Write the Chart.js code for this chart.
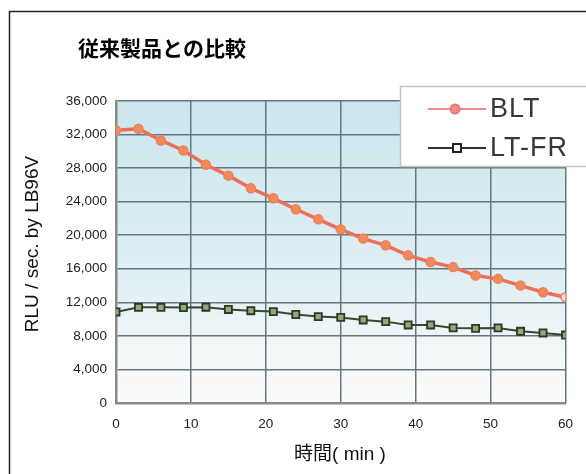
<!DOCTYPE html>
<html lang="ja">
<head>
    <meta charset="UTF-8">
    <title>従来製品との比較</title>
    <script src="https://cdn.jsdelivr.net/npm/chart.js"></script>
    <style>
        body {
            margin: 0;
            background-color: #ffffff;
        }
        .container {
            width: 586px;
            height: 474px;
            position: relative;
        }
    </style>
</head>
<body>
    <div class="container">
        <canvas id="compareChart"></canvas>
    </div>

    <script>
        const minutes = [0, 3, 6, 9, 12, 15, 18, 21, 24, 27, 30, 33, 36, 39, 42, 45, 48, 51, 54, 57, 60];
        const bltValues = [32500, 32700, 31300, 30100, 28400, 27100, 25600, 24400, 23100, 21900, 20700,
                           19600, 18800, 17600, 16800, 16200, 15200, 14800, 14000, 13200, 12600];
        const ltfrValues = [10850, 11400, 11400, 11380, 11420, 11150, 11000, 10900, 10550, 10300, 10200,
                            9900, 9700, 9300, 9300, 8950, 8900, 8950, 8550, 8350, 8100];
        const seriesNames = ['BLT', 'LT-FR'];
        const xTicks = [0, 10, 20, 30, 40, 50, 60];
        const yTicks = [0, 4000, 8000, 12000, 16000, 20000, 24000, 28000, 32000, 36000];

        const chartTitle = '従来製品との比較';
        const xTitle = '時間( min )';
        const yTitle = 'RLU / sec. by LB96V';

        const latin = "'Liberation Sans', Arial, 'Noto Sans CJK JP', sans-serif";

        // background of the plot area, frame, titles and the boxed legend
        const decorations = {
            id: 'decorations',
            beforeDraw(chart) {
                const { ctx, chartArea: a } = chart;
                ctx.save();
                const g = ctx.createLinearGradient(0, a.top, 0, a.bottom);
                g.addColorStop(0, '#cce6ee');
                g.addColorStop(0.6, '#e0eff4');
                g.addColorStop(0.82, '#f3f7f8');
                g.addColorStop(1, '#fbfbfb');
                ctx.fillStyle = g;
                ctx.fillRect(a.left, a.top, a.right - a.left, a.bottom - a.top);
                ctx.restore();
            },
            afterDraw(chart) {
                const { ctx } = chart;
                ctx.save();

                // frame
                ctx.strokeStyle = '#222';
                ctx.lineWidth = 1.5;
                ctx.beginPath();
                ctx.moveTo(9.5, 474);
                ctx.lineTo(9.5, 11.5);
                ctx.lineTo(586, 11.5);
                ctx.stroke();

                // main title
                ctx.fillStyle = '#000';
                ctx.font = "bold 21px 'Noto Sans CJK JP', sans-serif";
                ctx.textBaseline = 'middle';
                ctx.textAlign = 'left';
                ctx.fillText(chartTitle, 78, 48);

                // axis titles
                ctx.font = '19px ' + latin;
                ctx.fillStyle = '#111';
                ctx.textAlign = 'center';
                ctx.fillText(xTitle, 340, 455);
                ctx.save();
                ctx.translate(33, 244);
                ctx.rotate(-Math.PI / 2);
                ctx.fillText(yTitle, 0, 0);
                ctx.restore();

                // legend box
                ctx.fillStyle = '#ffffff';
                ctx.fillRect(400, 86, 186, 81);
                ctx.strokeStyle = '#c4c4c4';
                ctx.lineWidth = 1.5;
                ctx.strokeRect(400.5, 86.5, 190, 80);

                const ds = chart.data.datasets;
                const rows = [109, 148];
                rows.forEach((y, i) => {
                    const d = ds[i];
                    ctx.strokeStyle = i === 0 ? '#ec8c8c' : '#333';
                    ctx.lineWidth = 2;
                    ctx.beginPath();
                    ctx.moveTo(428, y);
                    ctx.lineTo(486, y);
                    ctx.stroke();
                    ctx.fillStyle = i === 0 ? '#f08a8a' : '#f4f4f4';
                    ctx.strokeStyle = i === 0 ? '#e87878' : '#222';
                    ctx.lineWidth = 2;
                    if (i === 0) {
                        ctx.beginPath();
                        ctx.arc(455, y, 4.5, 0, Math.PI * 2);
                        ctx.fill();
                        ctx.stroke();
                    } else {
                        ctx.fillRect(453, y - 4, 8, 8);
                        ctx.strokeRect(453, y - 4, 8, 8);
                    }
                    ctx.fillStyle = '#383838';
                    ctx.font = '27px ' + latin;
                    ctx.textAlign = 'left';
                    ctx.letterSpacing = '1px';
                    ctx.fillText(d.label, 490, y + 1);
                    ctx.letterSpacing = '0px';
                });

                ctx.restore();
            }
        };

        const bltPointFill = bltValues.map((v, i) => i === bltValues.length - 1 ? '#fbd8d0' : '#f28a58');

        const ctx = document.getElementById('compareChart').getContext('2d');

        const compareChart = new Chart(ctx, {
            type: 'line',
            data: {
                datasets: [{
                    label: seriesNames[0],
                    data: minutes.map((m, i) => ({ x: m, y: bltValues[i] })),
                    borderColor: '#ec7058',
                    borderWidth: 3.5,
                    pointStyle: 'circle',
                    pointRadius: 4.5,
                    pointBackgroundColor: bltPointFill,
                    pointBorderColor: '#ee8060',
                    pointBorderWidth: 1.5
                }, {
                    label: seriesNames[1],
                    data: minutes.map((m, i) => ({ x: m, y: ltfrValues[i] })),
                    borderColor: '#3a4634',
                    borderWidth: 2,
                    pointStyle: 'rect',
                    pointRadius: 5,
                    pointBackgroundColor: '#94a878',
                    pointBorderColor: '#2c3828',
                    pointBorderWidth: 1.8
                }]
            },
            options: {
                responsive: true,
                maintainAspectRatio: false,
                animation: false,
                layout: {
                    padding: { top: 101, left: 10, right: 20, bottom: 0 }
                },
                scales: {
                    x: {
                        type: 'linear',
                        min: 0,
                        max: 60,
                        afterFit: (scale) => { scale.height = 71; },
                        afterBuildTicks: (scale) => { scale.ticks = xTicks.map(v => ({ value: v })); },
                        grid: {
                            color: '#647680',
                            lineWidth: 1.5,
                            drawTicks: false
                        },
                        border: { color: '#8a8a8a', width: 2.5 },
                        ticks: {
                            padding: 13,
                            color: '#222',
                            font: { family: latin, size: 13.5 }
                        }
                    },
                    y: {
                        min: 0,
                        max: 36000,
                        afterFit: (scale) => { scale.width = 106; },
                        afterBuildTicks: (scale) => { scale.ticks = yTicks.map(v => ({ value: v })); },
                        grid: {
                            color: '#647680',
                            lineWidth: 1.5,
                            drawTicks: false
                        },
                        border: { color: '#8a8a8a', width: 2.5 },
                        ticks: {
                            padding: 9,
                            color: '#222',
                            font: { family: latin, size: 13.5 },
                            callback: (v) => v.toLocaleString('en-US')
                        }
                    }
                },
                plugins: {
                    legend: { display: false },
                    title: { display: false },
                    tooltip: { enabled: false }
                }
            },
            plugins: [decorations]
        });
    </script>
</body>
</html>
